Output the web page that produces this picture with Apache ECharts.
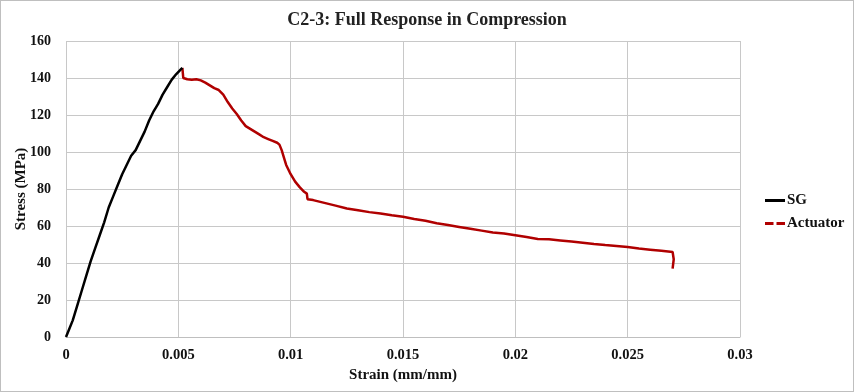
<!DOCTYPE html>
<html><head><meta charset="utf-8">
<script src="https://cdn.jsdelivr.net/npm/echarts@6/dist/echarts.min.js"></script>
<style>html,body{margin:0;padding:0;background:#fff}#c{width:852px;height:390px;border:1px solid #bfbfbf}</style>
</head><body><div id="c"></div>
<script>
const titleText = "C2-3: Full Response in Compression";
const xName = "Strain (mm/mm)";
const yName = "Stress (MPa)";
const xTicks = [0, 0.005, 0.01, 0.015, 0.02, 0.025, 0.03];
const yTicks = [0, 20, 40, 60, 80, 100, 120, 140, 160];
const sgStrain = [0,0.0001,0.0003,0.0005,0.0007,0.0009,0.0011,0.0013,0.0015,0.0017,0.0019,0.0021,0.0023,0.0025,0.0027,0.0029,0.0031,0.0033,0.0035,0.0037,0.0039,0.0041,0.0043,0.0045,0.0047,0.0049,0.0051,0.00518];
const sgStress = [0,3,9,17,25,33,41,48,55,62,70,76,82,88,93,98,101,106,111,117,122,126,131,135,139,142,144.5,145.5];
const actStrain = [0.00518,0.00522,0.0054,0.0056,0.0058,0.0060,0.0062,0.0064,0.0066,0.0068,0.0070,0.0072,0.0074,0.0076,0.0078,0.0080,0.0082,0.0084,0.0086,0.0088,0.0090,0.0092,0.0094,0.0095,0.0096,0.0097,0.0098,0.0100,0.0102,0.0104,0.0106,0.01072,0.01075,0.0110,0.0115,0.0120,0.0125,0.0130,0.0135,0.0140,0.0145,0.0150,0.0155,0.0160,0.0165,0.0170,0.0175,0.0180,0.0185,0.0190,0.0195,0.0200,0.0205,0.0210,0.0215,0.0220,0.0225,0.0230,0.0235,0.0240,0.0245,0.0250,0.0255,0.0260,0.0265,0.0270,0.02705,0.02705,0.0270];
const actStress = [145.5,140,139.3,139,139.3,138.7,137.5,136,134.5,133.5,131,127,123.5,120.5,117,114,112.5,111,109.5,108,107,106,105,104,101,97,93,88,84,81,78.5,77.5,74.5,74,72.5,71,69.5,68.5,67.5,66.8,65.8,65,63.8,62.8,61.5,60.5,59.5,58.5,57.5,56.5,56,55,54,53,52.8,52.2,51.6,51,50.3,49.7,49.2,48.7,47.8,47.2,46.6,46,45.5,42,37];

const zip = (a,b) => a.map((v,i)=>[v,b[i]]);
const font = "'Liberation Serif','Times New Roman',serif";
const chart = echarts.init(document.getElementById('c'), null, {renderer:'canvas'});
chart.setOption({
  animation:false,
  textStyle:{fontFamily:font},
  title:{text:titleText,left:'center',top:5,textStyle:{fontFamily:font,fontSize:18,fontWeight:'bold',color:'#222'}},
  grid:{left:65,right:113,top:40,bottom:54,containLabel:false,outerBoundsMode:'none'},
  legend:{orient:'vertical',left:764,top:192,padding:0,itemWidth:20,itemHeight:3,itemGap:8,
    textStyle:{fontFamily:font,fontSize:15,fontWeight:'bold',color:'#111',padding:[0,0,0,-3]},
    data:[{name:'SG',icon:'rect'},{name:'Actuator',icon:'path://M0,0h8.5v3h-8.5z M11.5,0h8.5v3h-8.5z'}]},
  xAxis:{type:'value',min:xTicks[0],max:xTicks[xTicks.length-1],interval:0.005,
    name:xName,nameLocation:'middle',nameGap:31,nameMoveOverlap:false,
    nameTextStyle:{fontFamily:font,fontSize:15,fontWeight:'bold',color:'#111'},
    axisLine:{show:true,lineStyle:{color:'#bfbfbf'}},axisTick:{show:false},
    axisLabel:{fontFamily:font,fontSize:14.5,fontWeight:'bold',color:'#111',margin:11,formatter:v=>String(+v.toFixed(3))},
    splitLine:{show:true,lineStyle:{color:'#c8c8c8',width:1}}},
  yAxis:{type:'value',min:yTicks[0],max:yTicks[yTicks.length-1],interval:20,
    name:yName,nameLocation:'middle',nameGap:37,nameMoveOverlap:false,
    nameTextStyle:{fontFamily:font,fontSize:15,fontWeight:'bold',color:'#111'},
    axisLine:{show:false},axisTick:{show:false},
    axisLabel:{fontFamily:font,fontSize:14,fontWeight:'bold',color:'#111',margin:15},
    splitLine:{show:true,lineStyle:{color:'#c8c8c8',width:1}}},
  series:[
    {name:'SG',type:'line',data:zip(sgStrain,sgStress),showSymbol:false,symbol:'none',
      lineStyle:{color:'#000',width:2.5},itemStyle:{color:'#000'},z:3},
    {name:'Actuator',type:'line',data:zip(actStrain,actStress),showSymbol:false,symbol:'none',
      lineStyle:{color:'#b00000',width:2.5,type:'solid'},itemStyle:{color:'#b00000'},z:2}
  ]
});
</script></body></html>
